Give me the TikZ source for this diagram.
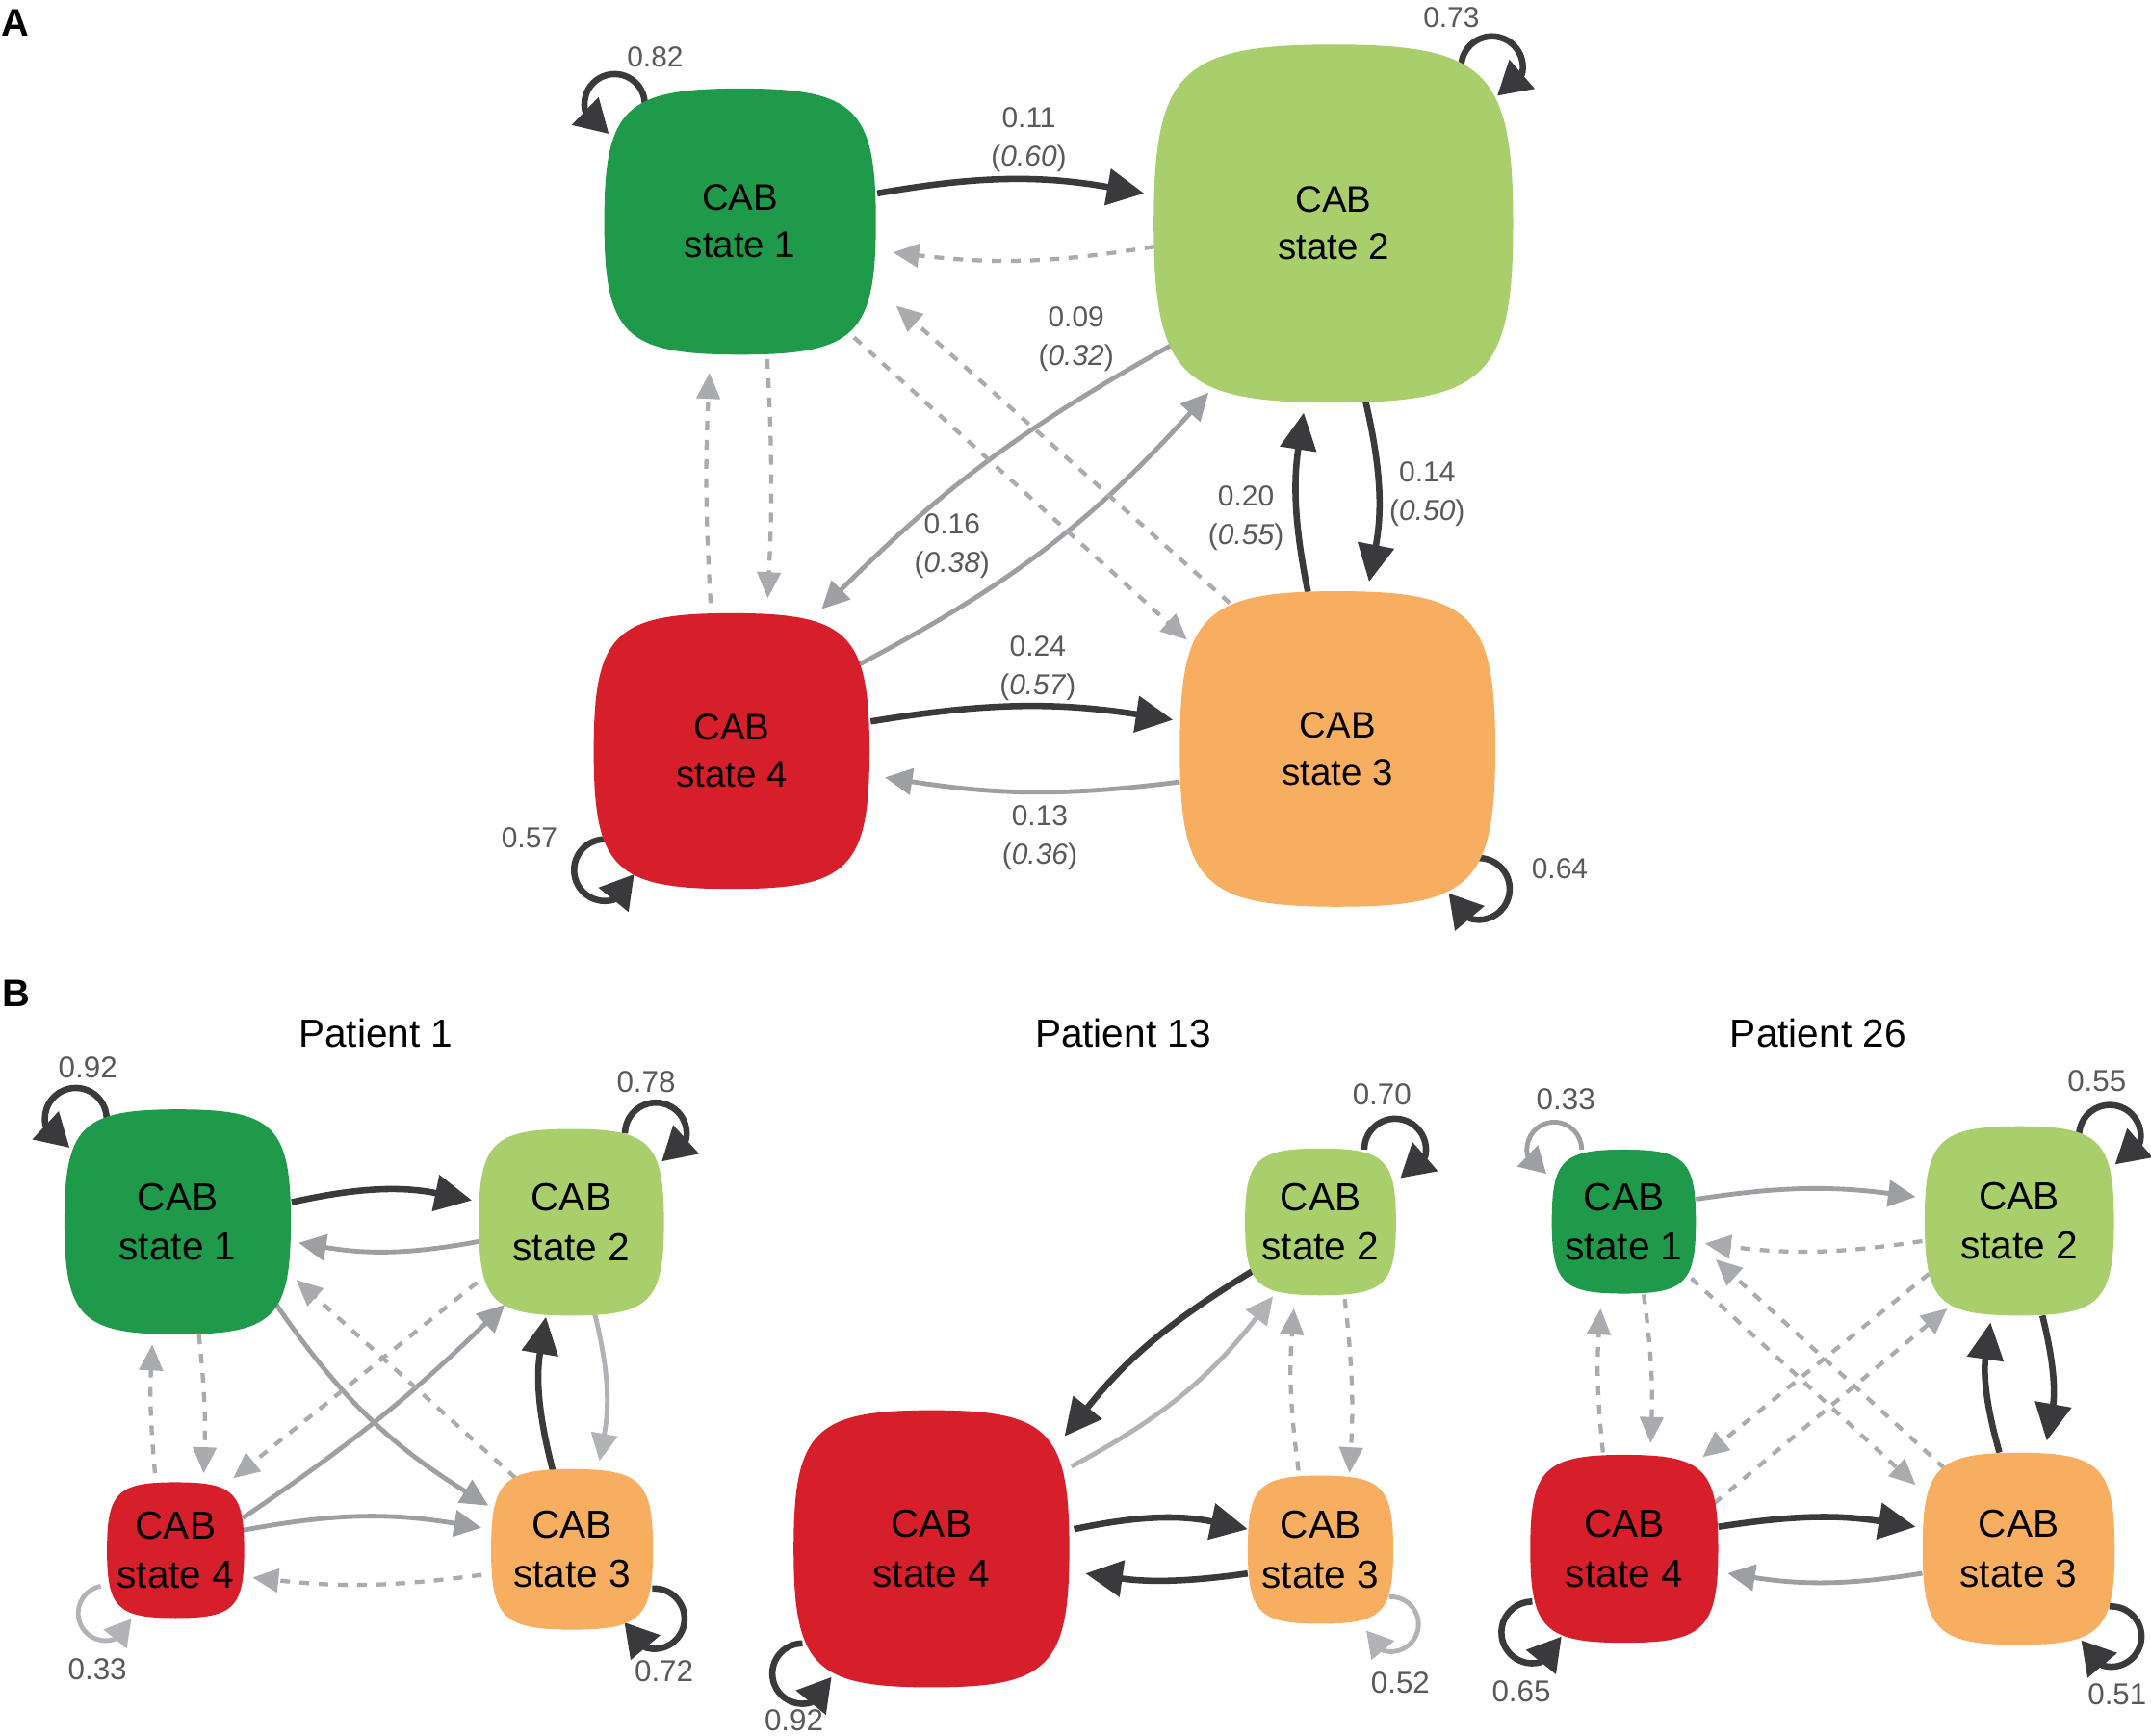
\documentclass[tikz,border=0pt]{standalone}
\usepackage{fontspec}
\setmainfont{Liberation Sans}
\usetikzlibrary{arrows.meta,calc}
\pgfdeclarelayer{bgw}
\pgfdeclarelayer{edges}
\pgfsetlayers{bgw,edges,main}
\definecolor{cgA}{HTML}{1E9A4A}
\definecolor{cgB}{HTML}{A8CF6C}
\definecolor{cr}{HTML}{D71F2C}
\definecolor{co}{HTML}{F7AE60}
\definecolor{dkc}{HTML}{3A3A3C}
\definecolor{gyc}{HTML}{9D9FA2}
\definecolor{lgc}{HTML}{A9ABAE}
\definecolor{llc}{HTML}{B1B3B6}
\definecolor{lbc}{HTML}{58595B}
\newcommand\fA{\fontsize{27}{34.4}\selectfont}
\newcommand\fB{\fontsize{28.5}{36}\selectfont}
\newcommand\sqshape[5]{%
  \fill[#5] ({#1+#3/2},{#2})
   .. controls ({#1+#3/2},{#2-0.85*#4/2}) and ({#1+0.85*#3/2},{#2-#4/2}) .. ({#1},{#2-#4/2})
   .. controls ({#1-0.85*#3/2},{#2-#4/2}) and ({#1-#3/2},{#2-0.85*#4/2}) .. ({#1-#3/2},{#2})
   .. controls ({#1-#3/2},{#2+0.85*#4/2}) and ({#1-0.85*#3/2},{#2+#4/2}) .. ({#1},{#2+#4/2})
   .. controls ({#1+0.85*#3/2},{#2+#4/2}) and ({#1+#3/2},{#2+0.85*#4/2}) .. cycle;}
\newcommand\cabnode[8]{%
  \sqshape{#2}{#3}{#4}{#5}{#6}
  \node[inner sep=0pt, minimum width=#4pt, minimum height=#5pt, align=center, font=#7] (#1) at (#2,#3) {#8};}
% style, node, dx, dy, r, start (visual deg), end (visual deg), arrow dir (visual deg), arrow length
\newcommand\selfloop[9]{%
  \draw[#1] ([shift={({#3+#5*cos(#6)},{#4-#5*sin(#6)})}]#2.center)
     arc[start angle={-(#6)}, end angle={-(#7)}, radius=#5]
     -- ++({#9*cos(#8)},{-#9*sin(#8)});}
\tikzset{
  dk/.style={draw=dkc, line width=4.6pt, -{Triangle[length=27pt,width=26pt]}},
  dkL/.style={draw=dkc, line width=4.6pt, line join=round, -{Triangle[length=24pt,width=27pt]}},
  gs/.style={draw=gyc, line width=3.4pt, -{Triangle[length=20pt,width=19pt]}},
  gl/.style={draw=llc, line width=3.4pt, -{Triangle[length=20pt,width=19pt]}},
  glL/.style={draw=llc, line width=3.4pt, line join=round, -{Triangle[length=19pt,width=21pt]}},
  gsL/.style={draw=gyc, line width=3.4pt, line join=round, -{Triangle[length=19pt,width=21pt]}},
  ds/.style={draw=lgc, line width=3pt, dash pattern=on 7pt off 7pt, -{Triangle[length=19pt,width=17pt]}},
  lab/.style={text=lbc, font=\fontsize{21}{28}\selectfont, align=center, inner sep=0pt},
  blab/.style={text=lbc, font=\fontsize{22}{26}\selectfont, inner sep=0pt},
  ttl/.style={font=\fontsize{28.5}{32}\selectfont, inner sep=0pt},
  pan/.style={font=\fontsize{28}{30}\selectfont\bfseries, inner sep=0pt}
}
\begin{document}
\begin{tikzpicture}[x=1pt,y=-1pt]
\begin{pgfonlayer}{bgw}
\fill[white] (0,0) rectangle (1568,1265);
\end{pgfonlayer}
\useasboundingbox (0,0) rectangle (1568,1265);

% panel labels
\node[pan] (pA) at (11,17) {A};
\node[pan] (pB) at (12,724) {B};

% ===== Panel A nodes =====
\cabnode{a1}{539.5}{161.5}{198}{194}{cgA}{\fA}{CAB\\state 1}
\cabnode{a2}{972}{163}{262}{261}{cgB}{\fA}{CAB\\state 2}
\cabnode{a3}{975}{546}{230}{230}{co}{\fA}{CAB\\state 3}
\cabnode{a4}{533.3}{547.5}{201}{201}{cr}{\fA}{CAB\\state 4}

% ===== Panel B nodes =====
\node[ttl] (t1) at (274,753) {Patient 1};
\node[ttl] (t13) at (818.7,753) {Patient 13};
\node[ttl] (t26) at (1325.4,753) {Patient 26};

\cabnode{pa1}{129.5}{890.7}{165}{164}{cgA}{\fB}{CAB\\state 1}
\cabnode{pa2}{416.5}{891}{135}{136}{cgB}{\fB}{CAB\\state 2}
\cabnode{pa3}{417}{1129.5}{118}{117}{co}{\fB}{CAB\\state 3}
\cabnode{pa4}{128}{1130}{100}{99}{cr}{\fB}{CAB\\state 4}

\cabnode{pb2}{962.6}{890.7}{110}{107}{cgB}{\fB}{CAB\\state 2}
\cabnode{pb3}{962.6}{1129.7}{106}{108}{co}{\fB}{CAB\\state 3}
\cabnode{pb4}{679}{1129}{201}{202}{cr}{\fB}{CAB\\state 4}

\cabnode{pc1}{1183.7}{890.5}{105}{105}{cgA}{\fB}{CAB\\state 1}
\cabnode{pc2}{1472}{890}{138}{138}{cgB}{\fB}{CAB\\state 2}
\cabnode{pc3}{1471.5}{1129}{140}{140}{co}{\fB}{CAB\\state 3}
\cabnode{pc4}{1184}{1129}{137}{137}{cr}{\fB}{CAB\\state 4}

\begin{pgfonlayer}{edges}
% ----- Panel A edges -----
\draw[dk] ([shift={(100,-20.5)}]a1.center) to[bend left=10] ([shift={(-138,-22)}]a2.center);
\draw[ds] ([shift={(-130.6,16.8)}]a2.center) to[bend left=8] ([shift={(111.4,22.5)}]a1.center);
\draw[gs] ([shift={(-115.7,87.3)}]a2.center) to[bend right=8] ([shift={(65.7,-103.5)}]a4.center);
\draw[gs] ([shift={(93.7,-63.5)}]a4.center) to[bend right=10] ([shift={(-91,123.2)}]a2.center);
\draw[dk] ([shift={(23,127.6)}]a2.center) to[bend left=12] ([shift={(23,-122)}]a3.center);
\draw[dk] ([shift={(-21.6,-114.5)}]a3.center) to[bend left=10] ([shift={(-21.6,137.8)}]a2.center);
\draw[dk] ([shift={(101.4,-21.6)}]a4.center) to[bend left=9] ([shift={(-120,-21.3)}]a3.center);
\draw[gs] ([shift={(-115,24)}]a3.center) to[bend left=8] ([shift={(111.7,19.2)}]a4.center);
\draw[ds] ([shift={(19.8,100.3)}]a1.center) to[bend left=3] ([shift={(26.3,-111.4)}]a4.center);
\draw[ds] ([shift={(-15.3,-107.9)}]a4.center) to[bend left=3] ([shift={(-22.3,110.2)}]a1.center);
\draw[ds] ([shift={(83.1,84.5)}]a1.center) -- ([shift={(-109.7,-79.6)}]a3.center);
\draw[ds] ([shift={(-78.6,-106.4)}]a3.center) -- ([shift={(113.8,61.3)}]a1.center);
\selfloop{dkL}{a1}{-91.5}{-85.5}{22}{0}{193}{-44}{24}
\selfloop{dkL}{a2}{115.6}{-114}{22.5}{180}{-13}{221}{24}
\selfloop{dkL}{a4}{-92.3}{86.8}{22.5}{90}{286}{51}{24}
\selfloop{dkL}{a3}{103}{102}{22.5}{94}{-107}{130}{24}

% ----- Patient 1 -----
\draw[dk] ([shift={(83.1,-14.3)}]pa1.center) to[bend left=12] ([shift={(-72.5,-16)}]pa2.center);
\draw[gs] ([shift={(-67.5,14)}]pa2.center) to[bend left=10] ([shift={(88.2,15.3)}]pa1.center);
\draw[gs] ([shift={(69.5,56.8)}]pa1.center) to[bend right=12] ([shift={(-61,-32)}]pa3.center);
\draw[gs] ([shift={(49,-23.5)}]pa4.center) to[bend right=5] ([shift={(-48.5,60)}]pa2.center);
\draw[gs] ([shift={(49,-14.5)}]pa4.center) to[bend left=10] ([shift={(-66,-15.8)}]pa3.center);
\draw[ds] ([shift={(-66,18.5)}]pa3.center) to[bend left=7] ([shift={(56,20)}]pa4.center);
\draw[dk] ([shift={(-14,-57.5)}]pa3.center) to[bend left=12] ([shift={(-18.5,69)}]pa2.center);
\draw[gl] ([shift={(17.2,67.4)}]pa2.center) to[bend left=12] ([shift={(20,-64.5)}]pa3.center);
\draw[ds] ([shift={(15.5,82.3)}]pa1.center) to[bend left=4] ([shift={(20.5,-56)}]pa4.center);
\draw[ds] ([shift={(-15,-56)}]pa4.center) to[bend left=4] ([shift={(-18.5,89.3)}]pa1.center);
\draw[ds] ([shift={(-68.9,44)}]pa2.center) -- ([shift={(42,-52.4)}]pa4.center);
\draw[ds] ([shift={(-41,-51.9)}]pa3.center) -- ([shift={(86.5,42.3)}]pa1.center);
\selfloop{dkL}{pa1}{-74.3}{-75.1}{22.5}{0}{192}{-43}{24}
\selfloop{dkL}{pa2}{61.6}{-64.7}{22.5}{180}{-11}{222}{24}
\selfloop{glL}{pa4}{-51}{46}{20}{100}{290}{51}{19}
\selfloop{dkL}{pa3}{60}{50.5}{22}{94}{-107}{130}{24}

% ----- Patient 13 -----
\draw[dk] ([shift={(-49.8,36)}]pb2.center) to[bend right=10] ([shift={(97,-82)}]pb4.center);
\draw[gl] ([shift={(102,-60)}]pb4.center) to[bend right=12] ([shift={(-34.6,54.3)}]pb2.center);
\draw[dk] ([shift={(104,-14.3)}]pb4.center) to[bend left=12] ([shift={(-53.1,-15)}]pb3.center);
\draw[dk] ([shift={(-53.1,17.3)}]pb3.center) to[bend left=8] ([shift={(112.3,18)}]pb4.center);
\draw[ds] ([shift={(17.7,56.3)}]pb2.center) to[bend left=5] ([shift={(21.1,-55.7)}]pb3.center);
\draw[ds] ([shift={(-16,-57.7)}]pb3.center) to[bend left=6] ([shift={(-19.4,63.1)}]pb2.center);
\selfloop{dkL}{pb2}{54.4}{-52.7}{22.5}{180}{-13}{221}{24}
\selfloop{glL}{pb3}{51.4}{54.3}{20}{94}{-107}{130}{19}
\selfloop{dkL}{pb4}{-94}{91}{22}{90}{286}{51}{24}

% ----- Patient 26 -----
\draw[gs] ([shift={(52.5,-16.3)}]pc1.center) to[bend left=8] ([shift={(-75.6,-17.5)}]pc2.center);
\draw[ds] ([shift={(-70.7,14.7)}]pc2.center) to[bend left=8] ([shift={(59.1,15.9)}]pc1.center);
\draw[dk] ([shift={(68.7,-16)}]pc4.center) to[bend left=9] ([shift={(-75.1,-16)}]pc3.center);
\draw[gs] ([shift={(-70.2,17.9)}]pc3.center) to[bend left=9] ([shift={(75.3,17.9)}]pc4.center);
\draw[dk] ([shift={(-14,-70.2)}]pc3.center) to[bend left=12] ([shift={(-21,74)}]pc2.center);
\draw[dk] ([shift={(16.8,69)}]pc2.center) to[bend left=12] ([shift={(20.5,-78.7)}]pc3.center);
\draw[ds] ([shift={(14.5,53.1)}]pc1.center) to[bend left=5] ([shift={(19.2,-77)}]pc4.center);
\draw[ds] ([shift={(-15.5,-70.2)}]pc4.center) to[bend left=5] ([shift={(-16.9,63.3)}]pc1.center);
\draw[ds] ([shift={(-65.7,38.4)}]pc2.center) -- ([shift={(57.1,-66.8)}]pc4.center);
\draw[ds] ([shift={(65.4,-33)}]pc4.center) -- ([shift={(-52.5,63.8)}]pc2.center);
\draw[ds] ([shift={(49.2,41.3)}]pc1.center) -- ([shift={(-75.1,-46.5)}]pc3.center);
\draw[ds] ([shift={(-53.7,-58.3)}]pc3.center) -- ([shift={(67,27.5)}]pc1.center);
\selfloop{gsL}{pc1}{-50.7}{-52.5}{20}{0}{193}{-44}{19}
\selfloop{dkL}{pc2}{66}{-62}{22.5}{180}{-13}{221}{24}
\selfloop{dkL}{pc4}{-67}{61}{22.5}{90}{286}{51}{24}
\selfloop{dkL}{pc3}{67.5}{64}{22}{94}{-107}{130}{24}
\end{pgfonlayer}

% ===== Panel A labels =====
\node[lab] (e12) at (750,102) {0.11\\(\textit{0.60})};
\node[lab] (e24) at (784.5,247) {0.09\\(\textit{0.32})};
\node[lab] (e42) at (694,398) {0.16\\(\textit{0.38})};
\node[lab] (e32) at (908.3,378) {0.20\\(\textit{0.55})};
\node[lab] (e23) at (1040.4,360) {0.14\\(\textit{0.50})};
\node[lab] (e43) at (756.5,487) {0.24\\(\textit{0.57})};
\node[lab] (e34) at (758,611) {0.13\\(\textit{0.36})};
\node[lab] (s1) at (477.6,41.7) {0.82};
\node[lab] (s2) at (1058,13) {0.73};
\node[lab] (s4) at (386,611) {0.57};
\node[lab] (s3) at (1137,633) {0.64};

% ===== Panel B labels =====
\node[blab] (q11) at (64,778) {0.92};
\node[blab] (q12) at (471,788.6) {0.78};
\node[blab] (q14) at (71,1217) {0.33};
\node[blab] (q13) at (484,1218.5) {0.72};
\node[blab] (q22) at (1007.4,798) {0.70};
\node[blab] (q23) at (1020.8,1226.5) {0.52};
\node[blab] (q24) at (578.7,1254) {0.92};
\node[blab] (q31) at (1141.4,801.4) {0.33};
\node[blab] (q32) at (1528.5,787.8) {0.55};
\node[blab] (q34) at (1109,1233.3) {0.65};
\node[blab] (q33) at (1543.3,1235) {0.51};
\end{tikzpicture}
\end{document}
